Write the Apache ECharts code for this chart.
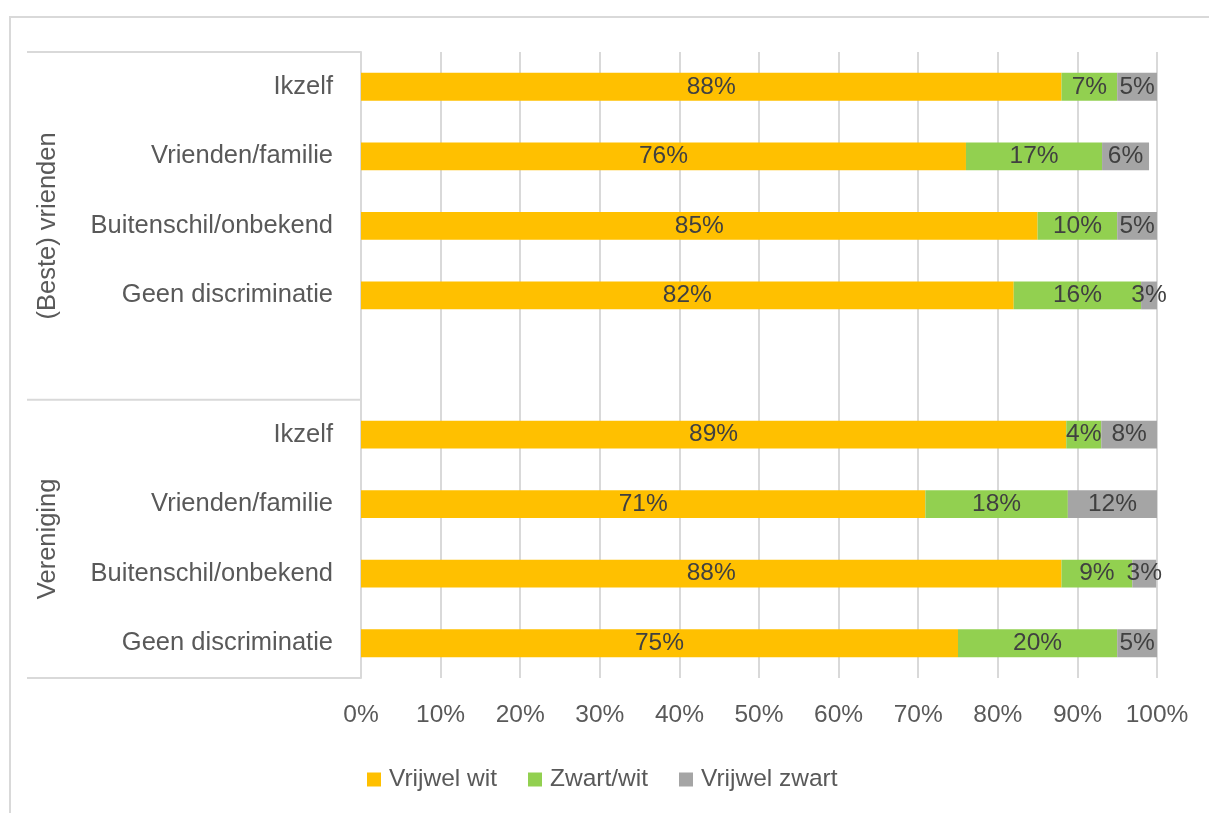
<!DOCTYPE html>
<html>
<head>
<meta charset="utf-8">
<script src="https://cdn.jsdelivr.net/npm/echarts@6/dist/echarts.min.js"></script>
<style>
html,body{margin:0;padding:0;background:#fff;}
#chart{width:1209px;height:813px;}
</style>
</head>
<body>
<div id="chart"></div>
<script>
// ---- data ----
var categories = ['Ikzelf', 'Vrienden/familie', 'Buitenschil/onbekend', 'Geen discriminatie', '',
                  'Ikzelf', 'Vrienden/familie', 'Buitenschil/onbekend', 'Geen discriminatie'];
var groupNames = ['(Beste) vrienden', 'Vereniging'];
var groupSpans = [5, 4];
var seriesNames = ['Vrijwel wit', 'Zwart/wit', 'Vrijwel zwart'];
var vrijwelWit   = [88, 76, 85, 82, null, 88.6, 70.9, 88, 75];
var zwartWit     = [7, 17.1, 10, 16, null, 4.4, 17.9, 8.9, 20];
var vrijwelZwart = [5, 5.9, 5, 2.5, null, 7.5, 11.5, 3, 5];
var xTicks = [0, 10, 20, 30, 40, 50, 60, 70, 80, 90, 100];

var FONT = 'Liberation Sans';
var FS = 24.5;
var FS_CAT = 25.5;
var colors = ['#FFC000', '#92D050', '#A5A5A5'];

// group label positions in category-slot units (derived from spans)
var groupCenters = [];
var groupEdges = [0];
(function () {
  var s = 0;
  for (var i = 0; i < groupSpans.length; i++) {
    groupCenters.push(s + groupSpans[i] / 2);
    s += groupSpans[i];
    groupEdges.push(s);
  }
})();

var chart = echarts.init(document.getElementById('chart'), null, {renderer: 'canvas'});

function mkSeries(name, data, color) {
  return {
    name: name,
    type: 'bar',
    stack: 'total',
    barWidth: '40%',
    yAxisIndex: 0,
    data: data,
    itemStyle: {color: color},
    label: {
      show: true,
      position: 'inside',
      color: '#404040',
      fontFamily: FONT,
      fontSize: FS,
      formatter: function (p) { return p.value == null ? '' : Math.round(p.value) + '%'; }
    },
    emphasis: {disabled: true}
  };
}

var option = {
  animation: false,
  backgroundColor: '#ffffff',
  textStyle: {fontFamily: FONT},
  grid: {left: 361, right: 52, top: 52, bottom: 135},
  xAxis: {
    type: 'value',
    min: xTicks[0],
    max: xTicks[xTicks.length - 1],
    interval: xTicks[1] - xTicks[0],
    axisLine: {show: false},
    axisTick: {show: false},
    splitLine: {show: true, lineStyle: {color: '#d9d9d9', width: 2}},
    axisLabel: {
      color: '#595959', fontFamily: FONT, fontSize: FS, margin: 25,
      formatter: '{value}%'
    }
  },
  yAxis: [{
    type: 'category',
    inverse: true,
    data: categories,
    axisLine: {show: true, lineStyle: {color: '#d9d9d9', width: 2}},
    axisTick: {show: false},
    splitLine: {show: false},
    axisLabel: {color: '#595959', fontFamily: FONT, fontSize: FS_CAT, margin: 28}
  }, {
    // outer level of the multi-level category axis
    type: 'value',
    position: 'left',
    inverse: true,
    min: 0,
    max: categories.length,
    axisLine: {show: false},
    axisTick: {show: false},
    splitLine: {show: false},
    axisLabel: {
      show: true,
      customValues: groupCenters,
      rotate: 90,
      margin: 300,
      color: '#595959', fontFamily: FONT, fontSize: FS_CAT,
      formatter: function (v) {
        var idx = groupCenters.indexOf(v);
        return idx >= 0 ? groupNames[idx] : '';
      }
    }
  }],
  legend: {
    data: seriesNames,
    left: 362,
    top: 762,
    icon: 'rect',
    itemWidth: 14,
    itemHeight: 14,
    itemGap: 31,
    textStyle: {color: '#595959', fontFamily: FONT, fontSize: FS, padding: [0, 0, 0, 3]}
  },
  series: [
    mkSeries(seriesNames[0], vrijwelWit, colors[0]),
    mkSeries(seriesNames[1], zwartWit, colors[1]),
    mkSeries(seriesNames[2], vrijwelZwart, colors[2])
  ]
};
chart.setOption(option);

// separator lines of the multi-level axis, positioned through the axis scale
var axisX = chart.convertToPixel({xAxisIndex: 0}, 0);
var lineLeft = 27;
var graphics = [{
  type: 'rect', silent: true, z: -10,
  shape: {x: 10, y: 17, width: 1300, height: 900},
  style: {fill: null, stroke: '#d9d9d9', lineWidth: 2}
}];
groupEdges.forEach(function (e) {
  var y = chart.convertToPixel({yAxisIndex: 1}, e);
  graphics.push({
    type: 'line', silent: true,
    shape: {x1: lineLeft, y1: y, x2: axisX, y2: y},
    style: {stroke: '#d9d9d9', lineWidth: 2}
  });
});
chart.setOption({graphic: {elements: graphics}});
</script>
</body>
</html>
